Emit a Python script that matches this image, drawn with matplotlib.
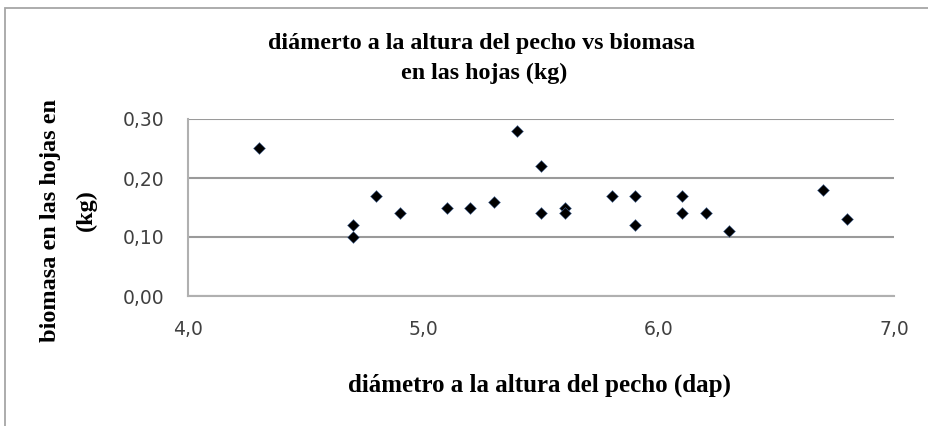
import matplotlib
matplotlib.use("Agg")
import matplotlib.pyplot as plt
from matplotlib.patches import Rectangle
from matplotlib.ticker import FuncFormatter

# diámetro a la altura del pecho (dap) y biomasa en las hojas (kg)
dap = [4.3, 4.7, 4.7, 4.8, 4.9, 5.1, 5.2, 5.3, 5.4, 5.5, 5.5,
       5.6, 5.6, 5.8, 5.9, 5.9, 6.1, 6.1, 6.2, 6.3, 6.7, 6.8]
biomasa_hojas = [0.25, 0.12, 0.10, 0.17, 0.14, 0.15, 0.15, 0.16, 0.28, 0.22, 0.14,
                 0.15, 0.14, 0.17, 0.17, 0.12, 0.17, 0.14, 0.14, 0.11, 0.18, 0.13]

x_ticks = [4.0, 5.0, 6.0, 7.0]
y_ticks = [0.0, 0.1, 0.2, 0.3]

W, H = 929, 426
fig = plt.figure(figsize=(W / 100, H / 100), dpi=100)
fig.patch.set_facecolor("white")

# marco del área del gráfico (solo se ven los bordes superior e izquierdo)
fig.add_artist(Rectangle((5 / W, -0.1), 1.2, 1 - 8 / H + 0.1, transform=fig.transFigure,
                         fill=False, edgecolor="#a6a6a6", linewidth=1.3))

ax = fig.add_axes([188 / W, 1 - 296 / H, (894 - 188) / W, (296 - 119) / H])
ax.scatter(dap, biomasa_hojas, marker="D", s=36, color="black",
           edgecolors="#4a6a9a", linewidths=0.4, zorder=3)

ax.set_xlim(4.0, 7.0)
ax.set_ylim(0.0, 0.3)
ax.set_xticks(x_ticks)
ax.set_yticks(y_ticks)
ax.xaxis.set_major_formatter(FuncFormatter(lambda v, p: f"{v:.1f}".replace(".", ",")))
ax.yaxis.set_major_formatter(FuncFormatter(lambda v, p: f"{v:.2f}".replace(".", ",")))
ax.tick_params(length=0, labelsize=13.5, labelcolor="#404040")
ax.tick_params(axis="y", pad=17)
ax.tick_params(axis="x", pad=17)
for lbl in ax.get_xticklabels() + ax.get_yticklabels():
    lbl.set_family("DejaVu Sans")

ax.grid(axis="y", color="#9a9a9a", linewidth=1.5)
ax.set_axisbelow(True)
for side in ["top", "right"]:
    ax.spines[side].set_visible(False)
ax.spines["left"].set_color("#b0b0b0")
ax.spines["bottom"].set_color("#b0b0b0")
ax.spines["left"].set_linewidth(1.5)
ax.spines["bottom"].set_linewidth(1.5)

serif = dict(family="Liberation Serif", weight="bold", color="black")
fig.text(482 / W, 1 - 44 / H, "diámerto a la altura del pecho vs biomasa",
         ha="center", va="center", fontsize=17.3, **serif)
fig.text(484 / W, 1 - 73 / H, "en las hojas (kg)",
         ha="center", va="center", fontsize=17.3, **serif)
fig.text(540 / W, 1 - 385 / H, "diámetro a la altura del pecho (dap)",
         ha="center", va="center", fontsize=18, **serif)
fig.text(51 / W, 1 - 221 / H, "biomasa en las hojas en",
         ha="center", va="center", rotation=90, fontsize=17.5, **serif)
fig.text(86 / W, 1 - 210 / H, "(kg)",
         ha="center", va="center", rotation=90, fontsize=17.5, **serif)

fig.savefig("out.png", dpi=100, facecolor="white")
